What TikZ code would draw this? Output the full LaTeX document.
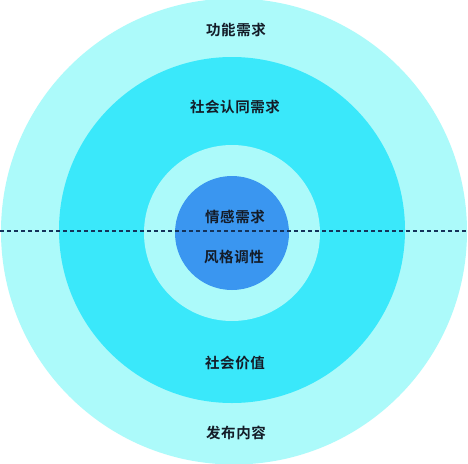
\documentclass[tikz,border=0pt]{standalone}
\usepackage{fontspec}
\newfontfamily\cjk[LetterSpace=4]{Noto Sans CJK SC Bold}
\definecolor{ringlight}{RGB}{172,250,250}
\definecolor{ringmid}{RGB}{58,232,250}
\definecolor{core}{RGB}{58,150,240}
\definecolor{labeltext}{RGB}{20,28,40}
\definecolor{dashcol}{RGB}{20,50,90}
\begin{document}
\begin{tikzpicture}[x=1pt,y=-1pt,
  ring/.style={circle,draw=none,inner sep=0pt},
  lbl/.style={font=\cjk\fontsize{14.5}{15}\selectfont,text=labeltext,inner sep=0pt}]
\useasboundingbox (0,0) rectangle (468,463);
\fill[white] (0,0) rectangle (468,463);
\node[ring,fill=ringlight,minimum size=466pt] (outer) at (234,231.5) {};
\node[ring,fill=ringmid,minimum size=346pt] (mid) at (232,230) {};
\node[ring,fill=ringlight,minimum size=176pt] (inner) at (232,233) {};
\node[ring,fill=core,minimum size=114pt] (coreC) at (232,233) {};
\coordinate (dl) at (0,231);
\coordinate (dr) at (468,231);
\draw[dashcol,line width=1.1pt,dash pattern=on 4pt off 3pt] (dl) -- (dr);
\node[lbl] (t1) at (236,30) {功能需求};
\node[lbl] (t2) at (235,107) {社会认同需求};
\node[lbl] (t3) at (235,217) {情感需求};
\node[lbl] (t4) at (234,257) {风格调性};
\node[lbl] (t5) at (235,363) {社会价值};
\node[lbl] (t6) at (236,433) {发布内容};
\end{tikzpicture}
\end{document}
